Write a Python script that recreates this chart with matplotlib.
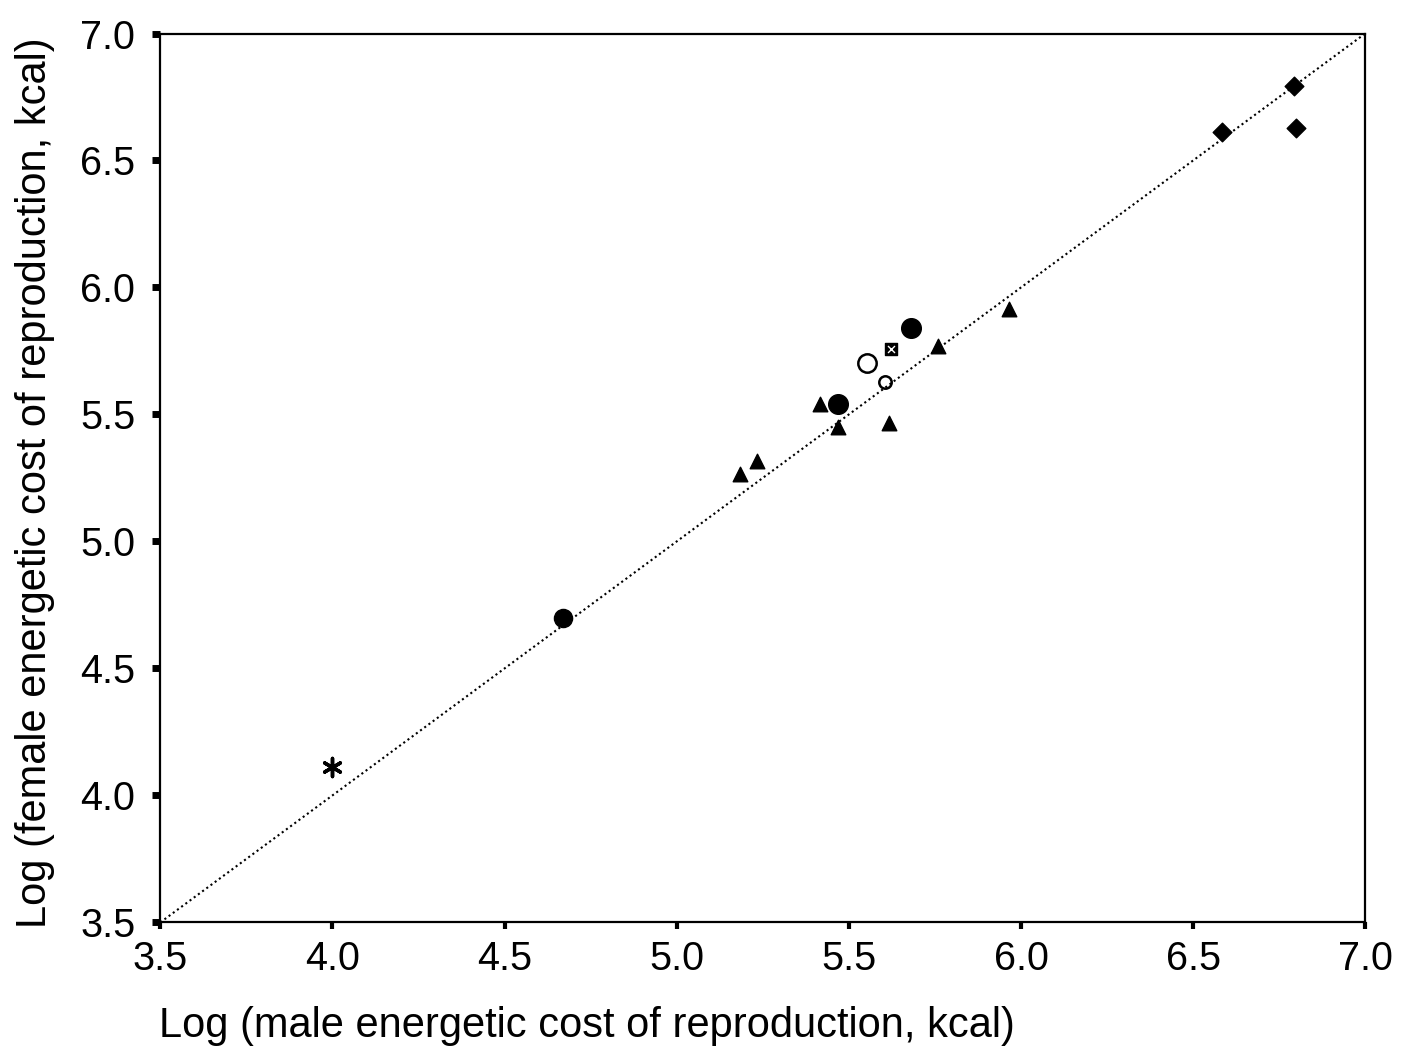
import matplotlib.pyplot as plt
import numpy as np

plt.rcParams["font.family"] = ["Liberation Sans", "DejaVu Sans"]

# log energetic cost of reproduction (kcal), male vs female, by marker group
star_x, star_y = [4.00], [4.11]
dot_x, dot_y = [4.67, 5.47, 5.68], [4.70, 5.54, 5.84]
tri_x = [5.185, 5.234, 5.417, 5.469, 5.617, 5.76, 5.965]
tri_y = [5.264, 5.315, 5.543, 5.449, 5.465, 5.77, 5.917]
ring_x, ring_y = [5.553], [5.701]
small_ring_x, small_ring_y = [5.605], [5.626]
box_x, box_y = [5.623], [5.756]
diamond_x = [6.584, 6.794, 6.80]
diamond_y = [6.614, 6.795, 6.626]

ticks = [3.5, 4.0, 4.5, 5.0, 5.5, 6.0, 6.5, 7.0]

fig = plt.figure(figsize=(14.06, 10.47), dpi=100)
ax = fig.add_axes([0.114, 0.119, 0.857, 0.849])

# line of equality
ax.plot([3.5, 7.0], [3.5, 7.0], color="black", linestyle=(0, (1, 1.5)), linewidth=1.5)

ax.scatter(star_x, star_y, marker=(6, 2, 0), s=170, color="black", linewidths=2.5)
ax.scatter(dot_x[:1], dot_y[:1], marker="o", s=170, color="black")
ax.scatter(dot_x[1:], dot_y[1:], marker="o", s=200, color="black")
ax.scatter(tri_x, tri_y, marker="^", s=110, color="black")
ax.scatter(ring_x, ring_y, marker="o", s=175, facecolor="white", edgecolor="black", linewidths=1.8)
ax.scatter(small_ring_x, small_ring_y, marker="o", s=80, facecolor="white", edgecolor="black", linewidths=1.8)
ax.scatter(box_x, box_y, marker="s", s=85, color="black")
ax.scatter(box_x, box_y, marker="x", s=25, color="white", linewidths=1)
ax.scatter(diamond_x, diamond_y, marker="D", s=90, color="black")

ax.set_xlim(3.5, 7.0)
ax.set_ylim(3.5, 7.0)
ax.set_xticks(ticks)
ax.set_yticks(ticks)
ax.set_xticklabels(["%.1f" % t for t in ticks])
ax.set_yticklabels(["%.1f" % t for t in ticks])
ax.tick_params(axis="both", labelsize=28.5, direction="out")
ax.tick_params(axis="x", width=3, length=5, pad=8)
ax.tick_params(axis="y", width=5, length=6, pad=12)
for s in ax.spines.values():
    s.set_linewidth(1.6)

ax.set_xlabel("Log (male energetic cost of reproduction, kcal)", fontsize=30, va="center")
ax.xaxis.set_label_coords(0.354, -0.116)
ax.set_ylabel("Log (female energetic cost of reproduction, kcal)", fontsize=30, va="center")
ax.yaxis.set_label_coords(-0.104, 0.495)

fig.savefig("out.png", dpi=100)
